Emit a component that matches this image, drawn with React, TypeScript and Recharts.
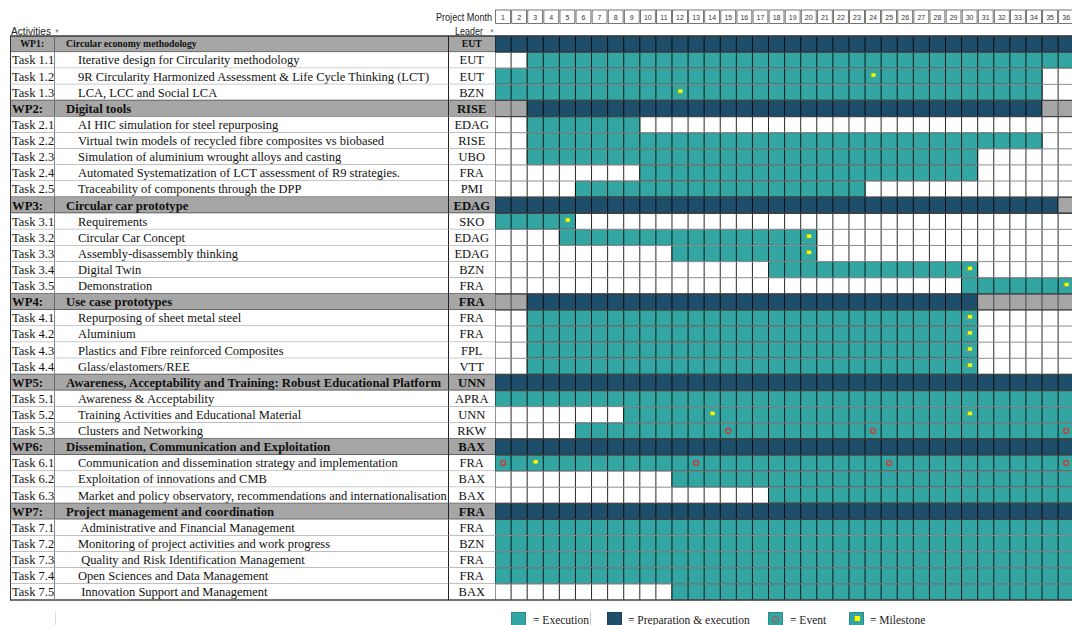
import React from "react";
import {
  ComposedChart,
  Bar,
  Scatter,
  XAxis,
  YAxis,
  CartesianGrid,
  Legend,
} from "recharts";

// Work plan colours
const COLORS = {
  execution: "#33a6a4",
  preparation: "#1f4e6b",
  idle: "#a6a6a6",
  milestone: "#ffff00",
  event: "#c4413c",
};

const SERIF = '"Liberation Serif", "Times New Roman", serif';
const NARROW = '"Liberation Sans Narrow", "Liberation Sans", Arial, sans-serif';

// Rows of the plan, top to bottom
const rowIds = [
  "WP1", "Task 1.1", "Task 1.2", "Task 1.3",
  "WP2", "Task 2.1", "Task 2.2", "Task 2.3", "Task 2.4", "Task 2.5",
  "WP3", "Task 3.1", "Task 3.2", "Task 3.3", "Task 3.4", "Task 3.5",
  "WP4", "Task 4.1", "Task 4.2", "Task 4.3", "Task 4.4",
  "WP5", "Task 5.1", "Task 5.2", "Task 5.3",
  "WP6", "Task 6.1", "Task 6.2", "Task 6.3",
  "WP7", "Task 7.1", "Task 7.2", "Task 7.3", "Task 7.4", "Task 7.5",
];

const rowTitles = [
  "Circular economy methodology",
  "Iterative design for Circularity methodology",
  "9R Circularity Harmonized Assessment & Life Cycle Thinking (LCT)",
  "LCA, LCC and Social LCA",
  "Digital tools",
  "AI HIC simulation for steel repurposing",
  "Virtual twin models of recycled fibre composites vs biobased",
  "Simulation of aluminium wrought alloys and casting",
  "Automated Systematization of LCT assessment of R9 strategies.",
  "Traceability of components through the DPP",
  "Circular car prototype",
  "Requirements",
  "Circular Car Concept",
  "Assembly-disassembly thinking",
  "Digital Twin",
  "Demonstration",
  "Use case prototypes",
  "Repurposing of sheet metal steel",
  "Aluminium",
  "Plastics and Fibre reinforced Composites",
  "Glass/elastomers/REE",
  "Awareness, Acceptability and Training: Robust Educational Platform",
  "Awareness & Acceptability",
  "Training Activities and Educational Material",
  "Clusters and Networking",
  "Dissemination, Communication and Exploitation",
  "Communication and dissemination strategy and implementation",
  "Exploitation of innovations and CMB",
  "Market and policy observatory, recommendations and internationalisation",
  "Project management and coordination",
  " Administrative and Financial Management",
  "Monitoring of project activities and work progress",
  " Quality and Risk Identification Management",
  "Open Sciences and Data Management",
  " Innovation Support and Management",
];

const rowLeaders = [
  "EUT", "EUT", "EUT", "BZN",
  "RISE", "EDAG", "RISE", "UBO", "FRA", "PMI",
  "EDAG", "SKO", "EDAG", "EDAG", "BZN", "FRA",
  "FRA", "FRA", "FRA", "FPL", "VTT",
  "UNN", "APRA", "UNN", "RKW",
  "BAX", "FRA", "BAX", "BAX",
  "FRA", "FRA", "BZN", "FRA", "FRA", "BAX",
];

const startMonths = [
  1, 3, 1, 1,
  3, 3, 3, 3, 10, 6,
  1, 1, 5, 12, 18, 30,
  3, 3, 3, 3, 3,
  1, 1, 9, 6,
  1, 1, 12, 18,
  1, 1, 1, 1, 1, 12,
];

const endMonths = [
  36, 36, 34, 34,
  34, 9, 34, 30, 30, 23,
  35, 5, 20, 20, 30, 36,
  30, 30, 30, 30, 30,
  36, 36, 36, 36,
  36, 36, 36, 36,
  36, 36, 36, 36, 36, 36,
];

const PROJECT_MONTHS = 36;
const monthTicks = [
  0, 1, 2, 3, 4, 5, 6, 7, 8, 9, 10, 11, 12, 13, 14, 15, 16, 17, 18,
  19, 20, 21, 22, 23, 24, 25, 26, 27, 28, 29, 30, 31, 32, 33, 34, 35, 36,
];

// [row, month]
const milestones: [string, number][] = [
  ["Task 1.2", 24],
  ["Task 1.3", 12],
  ["Task 3.1", 5],
  ["Task 3.2", 20],
  ["Task 3.3", 20],
  ["Task 3.4", 30],
  ["Task 3.5", 36],
  ["Task 4.1", 30],
  ["Task 4.2", 30],
  ["Task 4.3", 30],
  ["Task 4.4", 30],
  ["Task 5.2", 14],
  ["Task 5.2", 30],
  ["Task 6.1", 3],
];

const events: [string, number][] = [
  ["Task 5.3", 15],
  ["Task 5.3", 24],
  ["Task 5.3", 36],
  ["Task 6.1", 1],
  ["Task 6.1", 13],
  ["Task 6.1", 25],
  ["Task 6.1", 36],
];

// layout
const CHART_W = 1080;
const CHART_H = 625;
const LABEL_W = 495;
const HEADER_H = 36;
const PLOT_W = 579.2;
const PLOT_H = 564;
const ROW_H = PLOT_H / rowIds.length;
const COL_W = PLOT_W / PROJECT_MONTHS;
const TABLE_LEFT = 10;
const ID_SEP = 54.5;
const LEADER_SEP = 448.5;

const rows = rowIds.map((id, i) => {
  const ms = milestones.filter(([r]) => r === id).map(([, m]) => m - 0.5);
  const ev = events.filter(([r]) => r === id).map(([, m]) => m - 0.5);
  return {
    id,
    title: rowTitles[i],
    leader: rowLeaders[i],
    wp: id.startsWith("WP"),
    lead: startMonths[i] - 1,
    main: endMonths[i] - startMonths[i] + 1,
    tail: PROJECT_MONTHS - endMonths[i],
    ms0: ms[0] ?? null,
    ms1: ms[1] ?? null,
    ev0: ev[0] ?? null,
    ev1: ev[1] ?? null,
    ev2: ev[2] ?? null,
    ev3: ev[3] ?? null,
  };
});

function makeCells(part: "lead" | "main" | "tail") {
  return (props: any) => {
    const { x, y, width, height, payload } = props;
    const count = payload ? payload[part] : 0;
    if (!count || !(width > 0)) return <g />;
    const fill =
      part === "main"
        ? payload.wp
          ? COLORS.preparation
          : COLORS.execution
        : payload.wp
        ? COLORS.idle
        : null;
    if (!fill) return <g />;
    const w = width / count;
    const edges = Array.from({ length: count + 1 }, (_, k) => x + k * w);
    const vAlpha = fill === COLORS.idle ? 0.55 : 0.85;
    return (
      <g>
        <rect x={x} y={y} width={width} height={height} fill={fill} />
        <line x1={x} x2={x + width} y1={y} y2={y} stroke="rgba(0,0,0,0.45)" />
        <line x1={x} x2={x + width} y1={y + height} y2={y + height} stroke="rgba(0,0,0,0.45)" />
        {edges.map((ex, k) => (
          <line key={k} x1={ex} x2={ex} y1={y} y2={y + height} stroke={`rgba(0,0,0,${vAlpha})`} />
        ))}
      </g>
    );
  };
}

function MilestoneFlag(props: any) {
  const { cx, cy } = props;
  if (cx == null || cy == null || isNaN(cx)) return <g />;
  return (
    <g>
      <rect x={cx - 2} y={cy - 3} width={4.5} height={3.5} fill={COLORS.milestone} />
      <line x1={cx - 2} x2={cx - 2} y1={cy - 3} y2={cy + 1.5} stroke="#8fae1e" strokeWidth={1} />
    </g>
  );
}

function EventRing(props: any) {
  const { cx, cy } = props;
  if (cx == null || cy == null || isNaN(cx)) return <g />;
  return <circle cx={cx} cy={cy} r={2.5} fill="none" stroke={COLORS.event} strokeWidth={1.4} />;
}

function RowLabel(props: any) {
  const { y, payload } = props;
  const i = rowIds.indexOf(payload.value);
  const row = rows[i];
  if (!row) return <g />;
  const top = y - ROW_H / 2;
  const bottom = y + ROW_H / 2;
  const small = row.id === "WP1";
  const fs = small ? 9.75 : row.wp ? 12.7 : 12.5;
  const base = y + (small ? 3.3 : 4.3);
  const next = rows[i + 1];
  const darkBelow = row.wp || (next && next.wp) || !next;
  const right = LABEL_W + PLOT_W;
  return (
    <g>
      <clipPath id={`idclip-${i}`}>
        <rect x={TABLE_LEFT} y={top} width={ID_SEP - TABLE_LEFT} height={ROW_H} />
      </clipPath>
      <clipPath id={`titleclip-${i}`}>
        <rect x={ID_SEP} y={top} width={LEADER_SEP - ID_SEP - 0.5} height={ROW_H} />
      </clipPath>
      <rect
        x={TABLE_LEFT}
        y={top}
        width={LABEL_W - TABLE_LEFT}
        height={ROW_H}
        fill={row.wp ? COLORS.idle : "#fff"}
      />
      <text
        x={small ? (TABLE_LEFT + ID_SEP) / 2 : 12}
        y={base}
        textAnchor={small ? "middle" : "start"}
        fontFamily={SERIF}
        fontSize={fs}
        fontWeight={row.wp ? 700 : 400}
        fill="#111"
        clipPath={`url(#idclip-${i})`}
      >
        {row.wp ? `${row.id}:` : row.id}
      </text>
      <text
        x={row.wp ? 66 : 78}
        y={base}
        fontFamily={SERIF}
        fontSize={fs}
        fontWeight={row.wp ? 700 : 400}
        fill="#111"
        style={{ whiteSpace: "pre" }}
        clipPath={`url(#titleclip-${i})`}
      >
        {row.title}
      </text>
      <text
        x={(LEADER_SEP + LABEL_W) / 2}
        y={base}
        textAnchor="middle"
        fontFamily={SERIF}
        fontSize={fs}
        fontWeight={row.wp ? 700 : 400}
        fill="#111"
      >
        {row.leader}
      </text>
      {i === 0 && (
        <line x1={TABLE_LEFT} x2={right} y1={top} y2={top} stroke="#3a3a3a" strokeWidth={1.3} />
      )}
      <line
        x1={TABLE_LEFT}
        x2={right}
        y1={bottom}
        y2={bottom}
        stroke={darkBelow ? "#444" : "#8c8c8c"}
        strokeWidth={darkBelow ? 1.3 : 1}
      />
      <line x1={TABLE_LEFT + 0.5} x2={TABLE_LEFT + 0.5} y1={top} y2={bottom} stroke="#333" />
      <line x1={ID_SEP} x2={ID_SEP} y1={top} y2={bottom} stroke={row.wp ? "#6a6a6a" : "#888"} />
      <line x1={LEADER_SEP} x2={LEADER_SEP} y1={top} y2={bottom} stroke="#222" />
    </g>
  );
}

function MonthHeader(props: any) {
  const { x, y, payload } = props;
  const v = payload.value;
  if (v >= PROJECT_MONTHS) return <g />;
  return (
    <g>
      {v === 0 && (
        <g fontFamily={NARROW} fill="#222">
          <text
            x={x - 59}
            y={y - 3}
            fontSize={10.5}
            textLength={56}
            lengthAdjust="spacingAndGlyphs"
          >
            Project Month
          </text>
          <text
            x={x - 40}
            y={y + 10.5}
            fontSize={10.5}
            textLength={28}
            lengthAdjust="spacingAndGlyphs"
          >
            Leader
          </text>
          <text x={x - 3} y={y + 9} textAnchor="middle" fontSize={5.5} fill="#888">
            ▼
          </text>
          <text
            x={TABLE_LEFT + 1}
            y={y + 10.5}
            fontSize={10.5}
            textLength={40}
            lengthAdjust="spacingAndGlyphs"
          >
            Activities
          </text>
          <text x={TABLE_LEFT + 47} y={y + 9} textAnchor="middle" fontSize={5.5} fill="#888">
            ▼
          </text>
        </g>
      )}
      <rect
        x={x + 0.6}
        y={y - 14}
        width={COL_W - 1.2}
        height={13.5}
        fill="#fff"
        stroke="#555"
        strokeWidth={0.8}
      />
      <text
        x={x + COL_W / 2}
        y={y - 4.5}
        textAnchor="middle"
        fontFamily={NARROW}
        fontSize={7}
        fill="#333"
      >
        {v + 1}
      </text>
    </g>
  );
}

function Swatch({ left, color, children }: any) {
  return (
    <div
      style={{
        position: "absolute",
        left,
        top: 4,
        width: 15,
        height: 15,
        background: color,
        boxShadow: "inset 0 0 0 1px rgba(0,0,0,0.15)",
      }}
    >
      {children}
    </div>
  );
}

function PlanLegend() {
  const label = (left: number, text: string) => (
    <span style={{ position: "absolute", left, top: 5.5, whiteSpace: "nowrap" }}>{text}</span>
  );
  return (
    <div
      style={{
        position: "relative",
        width: 1072,
        height: 17,
        fontFamily: SERIF,
        fontSize: 11.5,
        lineHeight: "13px",
        color: "#222",
      }}
    >
      <div style={{ position: "absolute", left: 55, top: 4, width: 1, height: 13, background: "#ddd" }} />
      <Swatch left={511} color={COLORS.execution} />
      {label(533, "= Execution")}
      <div style={{ position: "absolute", left: 590, top: 4, width: 1, height: 13, background: "#ccc" }} />
      <Swatch left={607} color={COLORS.preparation} />
      {label(628, "= Preparation & execution")}
      <Swatch left={768} color={COLORS.execution}>
        <div
          style={{
            position: "absolute",
            left: 3.5,
            top: 4,
            width: 5,
            height: 5,
            borderRadius: "50%",
            border: `1.6px solid ${COLORS.event}`,
          }}
        />
      </Swatch>
      {label(790, "= Event")}
      <Swatch left={849} color={COLORS.execution}>
        <div
          style={{
            position: "absolute",
            left: 5,
            top: 4,
            width: 5,
            height: 5,
            background: COLORS.milestone,
            borderLeft: "1px solid #8fae1e",
          }}
        />
      </Swatch>
      {label(870, "= Milestone")}
    </div>
  );
}

export default function App() {
  return (
    <div
      style={{
        position: "absolute",
        left: 0,
        top: 0,
        width: 1072,
        height: 625,
        overflow: "hidden",
        background: "#fff",
      }}
    >
      <ComposedChart
        width={CHART_W}
        height={CHART_H}
        data={rows}
        layout="vertical"
        barCategoryGap={0}
        barGap={0}
        margin={{
          top: 0,
          left: 0,
          right: CHART_W - LABEL_W - PLOT_W,
          bottom: CHART_H - HEADER_H - PLOT_H,
        }}
      >
        <CartesianGrid horizontal={false} stroke="#2a2a2a" strokeWidth={1} />
        <XAxis
          type="number"
          orientation="top"
          domain={[0, PROJECT_MONTHS]}
          ticks={monthTicks}
          interval={0}
          allowDataOverflow
          height={HEADER_H}
          axisLine={false}
          tickLine={false}
          tickSize={0}
          tickMargin={12}
          tick={(p: any) => <MonthHeader {...p} />}
        />
        <YAxis
          type="category"
          dataKey="id"
          width={LABEL_W}
          interval={0}
          axisLine={false}
          tickLine={false}
          tickSize={0}
          tickMargin={0}
          tick={(p: any) => <RowLabel {...p} />}
        />
        <Bar dataKey="lead" stackId="row" isAnimationActive={false} shape={makeCells("lead")} />
        <Bar dataKey="main" stackId="row" isAnimationActive={false} shape={makeCells("main")} />
        <Bar dataKey="tail" stackId="row" isAnimationActive={false} shape={makeCells("tail")} />
        <Scatter dataKey="ev0" isAnimationActive={false} shape={EventRing} />
        <Scatter dataKey="ev1" isAnimationActive={false} shape={EventRing} />
        <Scatter dataKey="ev2" isAnimationActive={false} shape={EventRing} />
        <Scatter dataKey="ev3" isAnimationActive={false} shape={EventRing} />
        <Scatter dataKey="ms0" isAnimationActive={false} shape={MilestoneFlag} />
        <Scatter dataKey="ms1" isAnimationActive={false} shape={MilestoneFlag} />
        <Legend
          layout="horizontal"
          verticalAlign="middle"
          align="center"
          content={() => <PlanLegend />}
          wrapperStyle={{ position: "absolute", left: 0, top: 608, width: 1072, height: 17 }}
        />
      </ComposedChart>
    </div>
  );
}
